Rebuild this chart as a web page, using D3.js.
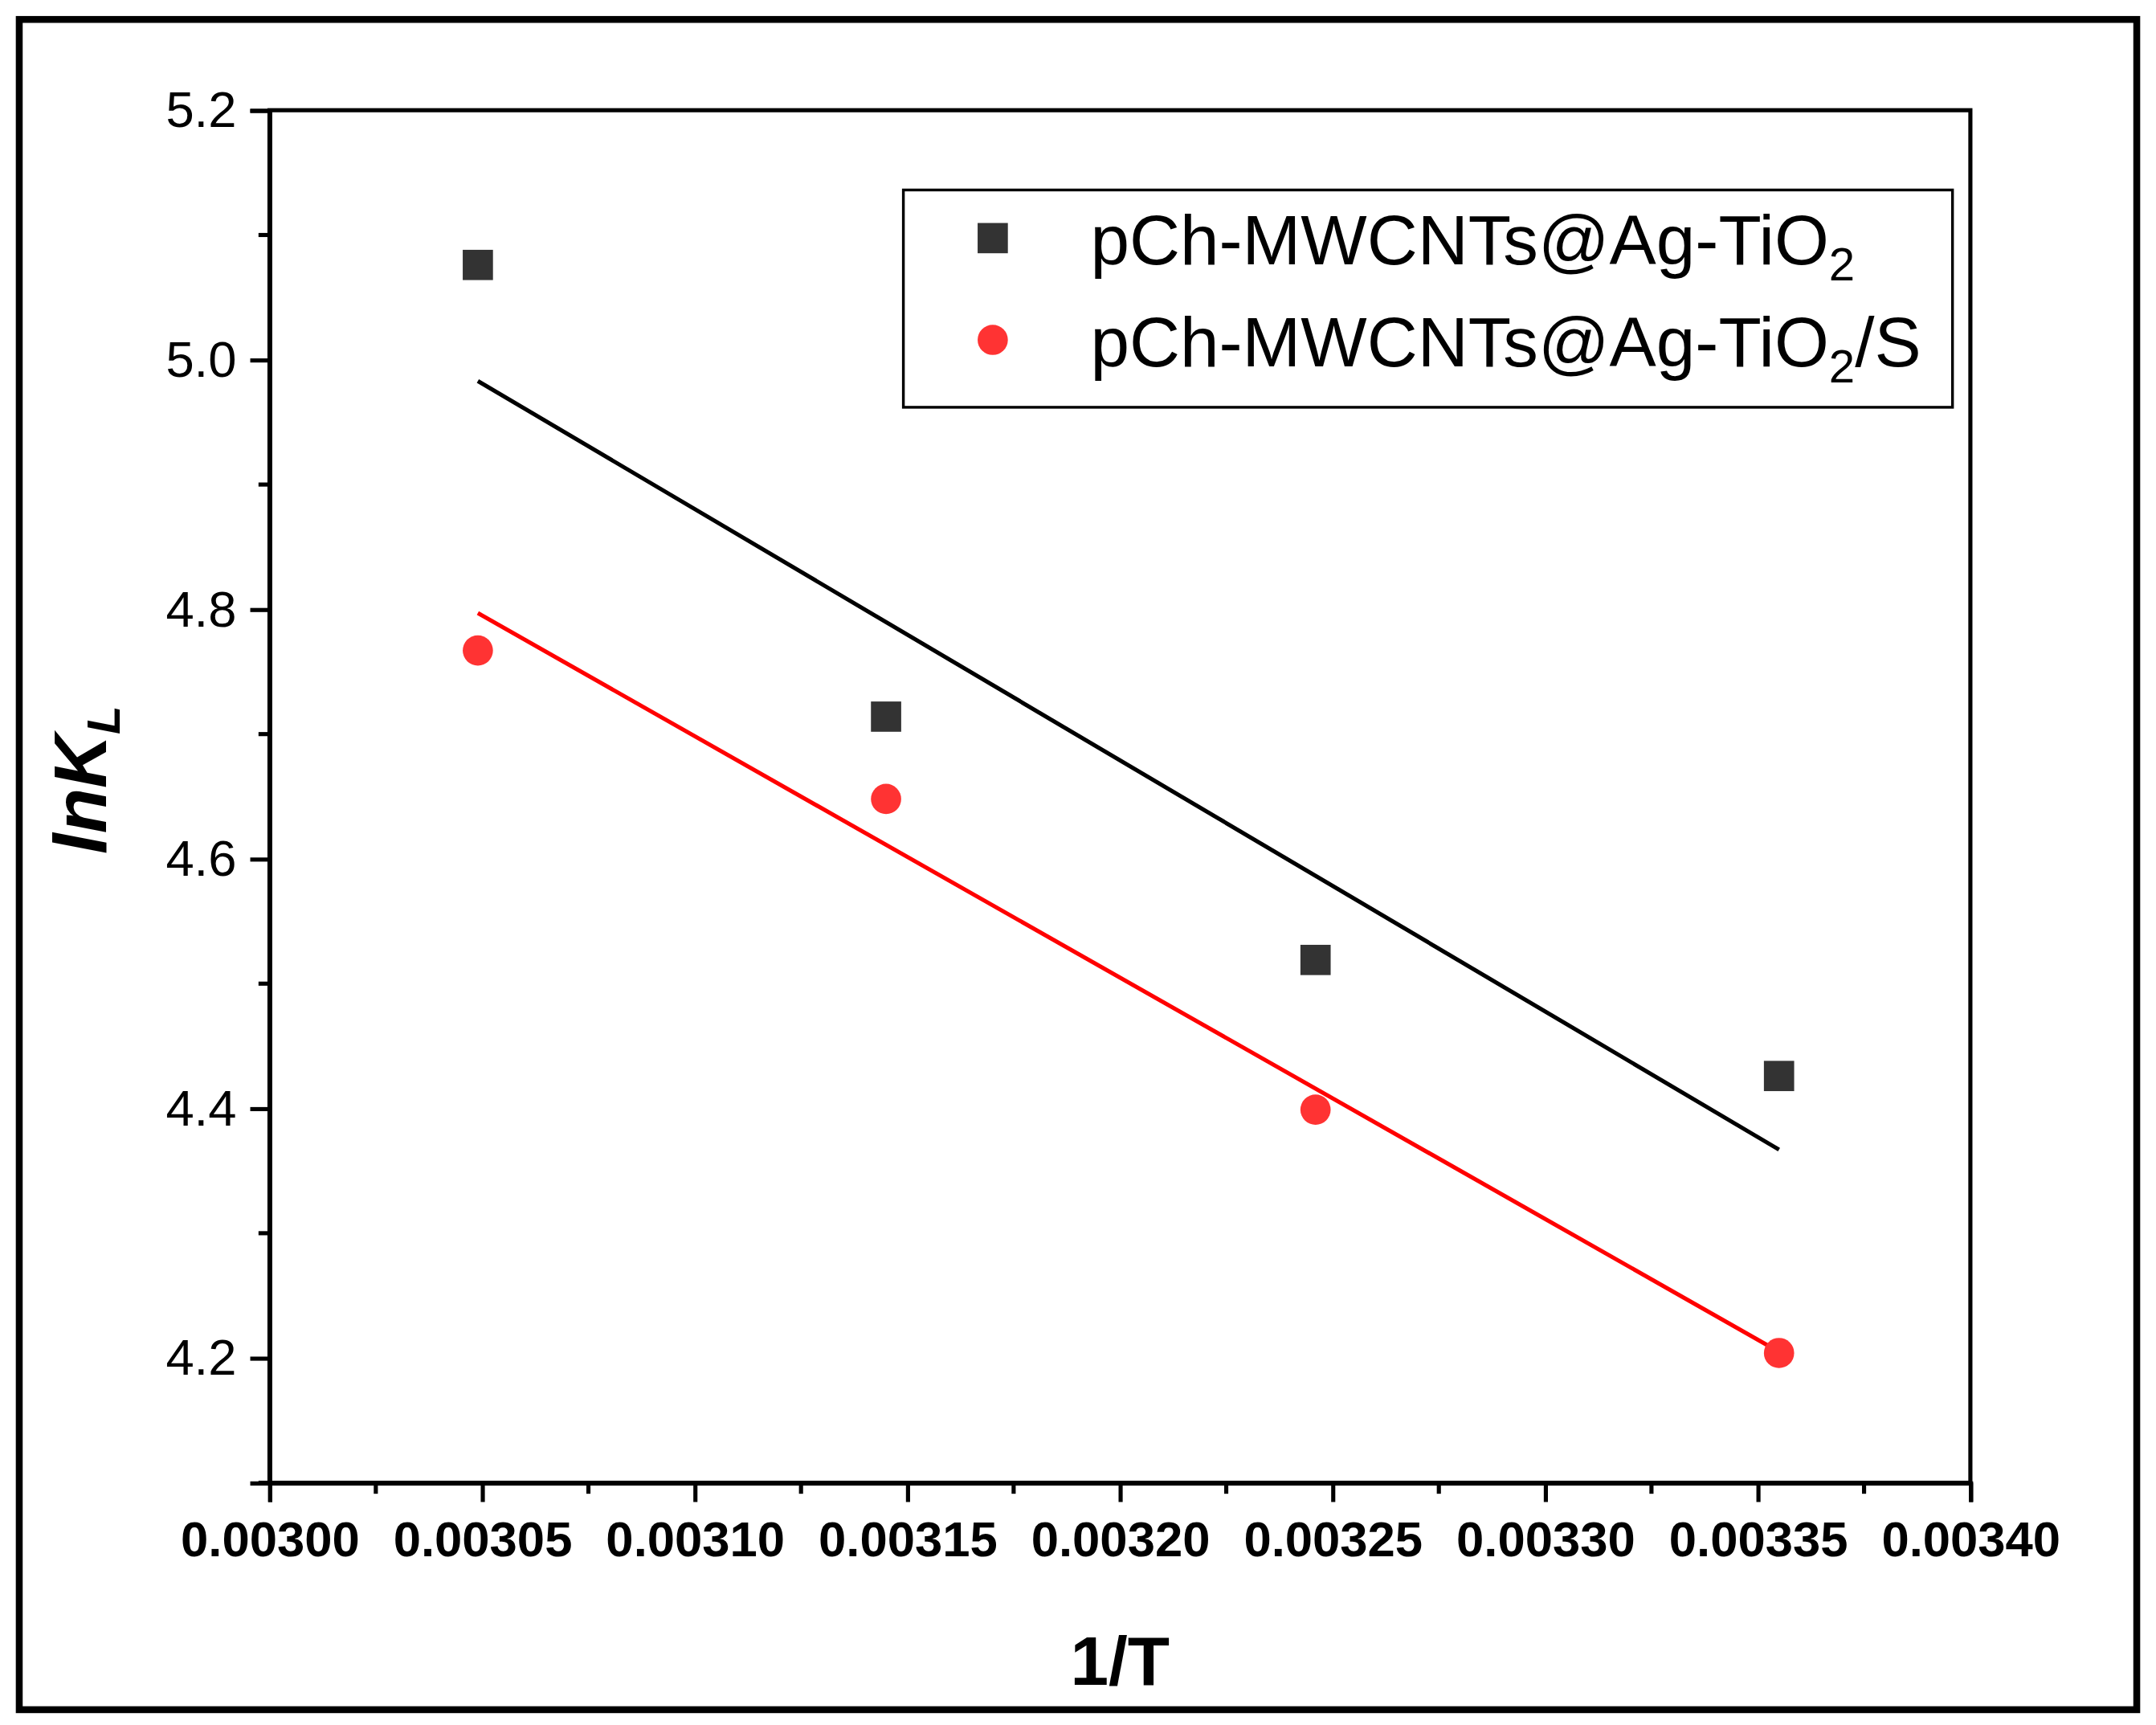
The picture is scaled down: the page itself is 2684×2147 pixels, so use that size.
<!DOCTYPE html><html><head><meta charset="utf-8"><script src="https://cdn.jsdelivr.net/npm/d3@7"></script>
<style>body{margin:0;background:#fff}</style></head><body><script>
const xVals=[0.003049,0.003145,0.003246,0.003355];
const blackVals=[5.076,4.714,4.519,4.426];
const redVals=[4.767,4.648,4.399,4.204];
const blackFit=[[0.003049,4.983],[0.003355,4.367]];
const redFit=[[0.003049,4.797],[0.003355,4.205]];
const xTicks=[0.0030,0.00305,0.0031,0.00315,0.0032,0.00325,0.0033,0.00335,0.0034];
const yTicks=[4.2,4.4,4.6,4.8,5.0,5.2];
const legendLabels=["pCh-MWCNTs@Ag-TiO","pCh-MWCNTs@Ag-TiO"];

const svg=d3.select("body").append("svg").attr("width",2684).attr("height",2147).attr("viewBox","0 0 1568 1254");
svg.append("rect").attr("x",14).attr("y",14).attr("width",1540).attr("height",1229).attr("fill","none").attr("stroke","#000").attr("stroke-width",5);
const L=196,R=1433,T=80,B=1078;
const x=d3.scaleLinear().domain([0.0030,0.0034]).range([L,R]);
const y=d3.scaleLinear().domain([4.1,5.2]).range([B,T]);
const f="Arial, 'Liberation Sans', sans-serif";
svg.append("rect").attr("x",L).attr("y",T).attr("width",R-L).attr("height",B-T).attr("fill","none").attr("stroke","#000").attr("stroke-width",3);
const xa=svg.append("g").attr("transform",`translate(0,${B})`).call(d3.axisBottom(x).tickValues(xTicks).tickFormat(d3.format(".5f")).tickSize(14).tickPadding(14));
xa.select(".domain").attr("stroke-width",3);
xa.selectAll(".tick line").attr("stroke-width",3);
xa.selectAll("text").attr("font-family",f).attr("font-size",36).attr("font-weight","bold");
const xm=d3.range(0,8).map(i=>0.003025+i*0.00005);
svg.append("g").selectAll("line").data(xm).join("line").attr("x1",d=>x(d)).attr("x2",d=>x(d)).attr("y1",B).attr("y2",B+8).attr("stroke","#000").attr("stroke-width",3);
const ya=svg.append("g").attr("transform",`translate(${L},0)`).call(d3.axisLeft(y).tickValues(yTicks).tickFormat(d3.format(".1f")).tickSize(14).tickPadding(10));
ya.select(".domain").attr("stroke-width",3);
ya.selectAll(".tick line").attr("stroke-width",3);
ya.selectAll("text").attr("font-family",f).attr("font-size",37);
const ym=[4.1,4.3,4.5,4.7,4.9,5.1];
svg.append("g").selectAll("line").data(ym).join("line").attr("x1",L).attr("x2",L-8).attr("y1",d=>y(d)).attr("y2",d=>y(d)).attr("stroke","#000").attr("stroke-width",3);
svg.append("text").attr("x",(L+R)/2).attr("y",1225).attr("text-anchor","middle").attr("font-family",f).attr("font-size",50).attr("font-weight","bold").text("1/T");
const yt=svg.append("text").attr("transform","translate(77,567) rotate(-90)").attr("text-anchor","middle").attr("font-family",f).attr("font-size",54).attr("font-weight","bold").attr("font-style","italic");
yt.append("tspan").text("lnK");yt.append("tspan").attr("font-size",34).attr("dy",10).text("L");
const line=d3.line().x(d=>x(d[0])).y(d=>y(d[1]));
svg.append("path").attr("d",line(blackFit)).attr("stroke","#000").attr("stroke-width",3).attr("fill","none");
svg.append("path").attr("d",line(redFit)).attr("stroke","#ff0000").attr("stroke-width",3).attr("fill","none");
svg.append("g").selectAll("rect").data(xVals).join("rect").attr("x",(d)=>x(d)-11).attr("y",(d,i)=>y(blackVals[i])-11).attr("width",22).attr("height",22).attr("fill","#333");
svg.append("g").selectAll("circle").data(xVals).join("circle").attr("cx",d=>x(d)).attr("cy",(d,i)=>y(redVals[i])).attr("r",11).attr("fill","#ff3333");
svg.append("rect").attr("x",657).attr("y",138).attr("width",763).attr("height",158).attr("fill","#fff").attr("stroke","#000").attr("stroke-width",2);
svg.append("rect").attr("x",711).attr("y",162).attr("width",22).attr("height",22).attr("fill","#333");
svg.append("circle").attr("cx",722).attr("cy",247).attr("r",11).attr("fill","#ff3333");
const t1=svg.append("text").attr("x",793).attr("y",192).attr("font-family",f).attr("font-size",51);
t1.append("tspan").text(legendLabels[0]);t1.append("tspan").attr("font-size",34).attr("dy",12).text("2");
const t2=svg.append("text").attr("x",793).attr("y",266).attr("font-family",f).attr("font-size",51);
t2.append("tspan").text(legendLabels[1]);t2.append("tspan").attr("font-size",34).attr("dy",12).text("2");t2.append("tspan").attr("dy",-12).text("/S");
</script></body></html>
